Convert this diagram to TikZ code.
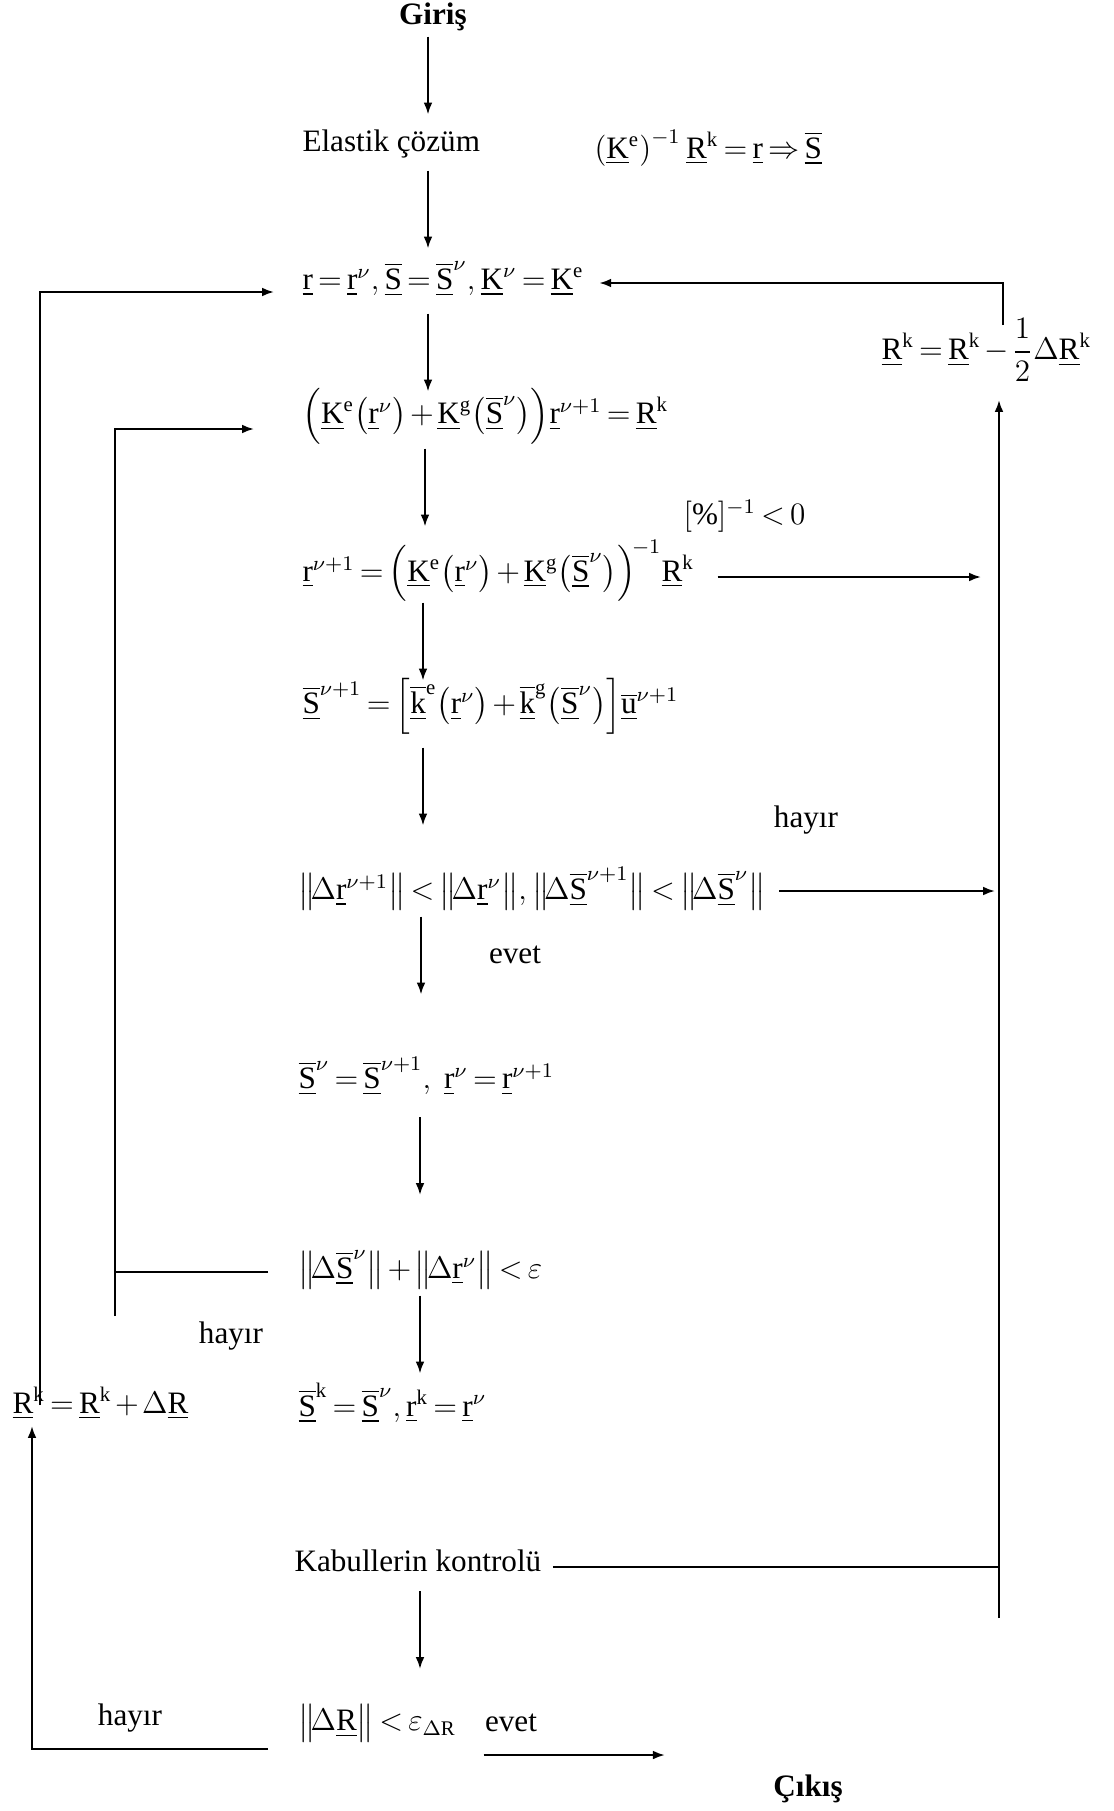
\documentclass[tikz,border=0pt]{standalone}
\usepackage{amsmath}
\usepackage{fontspec}
\setmainfont{Liberation Serif}
\usetikzlibrary{arrows.meta,calc}

% vector symbols
\newcommand{\vecr}{\underline{\mathrm{r}}}
\newcommand{\vecS}{\underline{\overline{\mathrm{S}}}}
\newcommand{\vecK}{\underline{\mathrm{K}}}
\newcommand{\vecR}{\underline{\mathrm{R}}}
\newcommand{\veck}{\underline{\overline{\mathrm{k}}}}
\newcommand{\vecu}{\underline{\overline{\mathrm{u}}}}
\newcommand{\nrm}[1]{\bigl\|\!#1\bigr\|}
\newcommand{\sue}{\mathrm{e}}
\newcommand{\sug}{\mathrm{g}}
\newcommand{\suk}{\mathrm{k}}
\thickmuskip=3mu plus 1mu
\medmuskip=2mu plus 1mu

\begin{document}
\begin{tikzpicture}[x=0.385pt,y=-0.385pt,
    txt/.style={inner sep=0pt,font=\fontsize{12}{14}\selectfont},
    lft/.style={txt,anchor=west},
    arr/.style={line width=0.8pt,-{Latex[length=4.6pt,width=3.4pt]}},
    ln/.style={line width=0.8pt}]

\useasboundingbox (0,0) rectangle (1114,1811);

% =====================================================
% MAIN COLUMN
% =====================================================
\node[txt,font=\fontsize{12}{14}\selectfont\bfseries] (giris) at (433,17) {Giriş};
\node[lft] (elastik) at (302,144) {Elastik çözüm};
\node[lft] (elform) at (594,148)
    {$\left(\vecK^{\sue}\right)^{-1}\vecR^{\suk}=\vecr\Rightarrow\vecS$};
\node[lft] (init) at (302,279)
    {$\vecr=\vecr^{\nu},\vecS=\vecS^{\nu},\vecK^{\nu}=\vecK^{\sue}$};
\node[lft] (eqsys) at (302,416)
    {$\Bigl(\vecK^{\sue}\bigl(\vecr^{\nu}\bigr)+\vecK^{\sug}\bigl(\vecS^{\nu}\bigr)\Bigr)\vecr^{\nu+1}=\vecR^{\suk}$};
\node[lft] (solve) at (302,571)
    {$\vecr^{\nu+1}=\Bigl(\vecK^{\sue}\bigl(\vecr^{\nu}\bigr)+\vecK^{\sug}\bigl(\vecS^{\nu}\bigr)\Bigr)^{\!-1}\vecR^{\suk}$};
\node[lft] (pcond) at (683,516) {$[\%]^{-1}<0$};
\node[lft] (stress) at (302,706)
    {$\vecS^{\nu+1}=\Bigl[\veck^{\sue}\bigl(\vecr^{\nu}\bigr)+\veck^{\sug}\bigl(\vecS^{\nu}\bigr)\Bigr]\vecu^{\nu+1}$};
\node[lft] (conv) at (298,889)
    {$\nrm{\Delta\vecr^{\nu+1}}<\nrm{\Delta\vecr^{\nu}},\nrm{\Delta\vecS^{\nu+1}}<\nrm{\Delta\vecS^{\nu}}$};
\node[lft] (update) at (298,1076) {$\vecS^{\nu}=\vecS^{\nu+1},\ \vecr^{\nu}=\vecr^{\nu+1}$};
\node[lft] (eps) at (298,1270) {$\nrm{\Delta\vecS^{\nu}}+\nrm{\Delta\vecr^{\nu}}<\varepsilon$};
\node[lft] (final) at (298,1403) {$\vecS^{\suk}=\vecS^{\nu},\vecr^{\suk}=\vecr^{\nu}$};
\node[lft] (kabul) at (294,1561) {Kabullerin kontrolü};
\node[lft] (dR) at (298,1723) {$\nrm{\Delta\vecR}<\varepsilon_{\Delta\mathrm{R}}$};
\node[txt,font=\fontsize{12}{14}\selectfont\bfseries] (cikis) at (808,1789) {Çıkış};

% side nodes
\node[lft] (rhalf) at (881,350) {$\vecR^{\suk}=\vecR^{\suk}-\dfrac{1}{2}\Delta\vecR^{\suk}$};
\node[lft] (radd) at (12,1403) {$\vecR^{\suk}=\vecR^{\suk}+\Delta\vecR$};

% labels
\node[txt] (hayir1) at (806,820) {hayır};
\node[txt] (evet1) at (515,955) {evet};
\node[txt] (hayir2) at (231,1336) {hayır};
\node[txt] (hayir3) at (130,1718) {hayır};
\node[txt] (evet2) at (511,1723) {evet};

% =====================================================
% DOWNWARD ARROWS
% =====================================================
\coordinate (sp) at (424,0);
\foreach \a/\b/\dx/\off in {giris/elastik/4/-5,elastik/init/4/-2,init/eqsys/4/5,
    eqsys/solve/1/-6,solve/stress/-1/3,stress/conv/-1/-11,conv/update/-3/-27,
    update/eps/-4/-17,eps/final/-4/-2,kabul/dR/-4/-12} {
    \draw[arr] ($(\a -| sp)!.5!(\b -| sp)+(\dx,\off-39)$) -- ++(0,78);
}

% =====================================================
% RIGHT SIDE
% =====================================================
\coordinate (rstub) at (999,1618);
\draw[arr] (rstub) -- ($(rhalf -| rstub)+(0,50)$);
\draw[ln] ($(kabul.east)+(11,6)$) -- ($(kabul -| rstub)+(0,6)$);
\draw[arr] ($(rhalf -| rstub)+(4,-25)$) |- ($(init.east)+(15,4)$);
\draw[arr] ($(solve.east)+(23,6)$) -- ($(solve -| rstub)+(-18,6)$);
\draw[arr] ($(conv.east)+(13,2)$) -- ($(conv -| rstub)+(-4,2)$);

% =====================================================
% LEFT SIDE
% =====================================================
\coordinate (istub) at (115,1316);
\draw[arr] (istub) |- ($(eqsys.west)+(-48,13)$);
\draw[ln] ($(eps.west)+(-30,2)$) -- ($(eps -| istub)+(0,2)$);

\coordinate (lx) at (40,0);
\draw[arr] ($(radd -| lx)+(0,2)$) |- ($(init.west)+(-28,13)$);

\coordinate (bl) at (32,0);
\draw[arr] ($(dR.west)+(-30,26)$) -| ($(radd -| bl)+(0,23)$);

% exit
\draw[arr] ($(dR.east)+(27,32)$) -- ($(cikis.west)+(-108,-34)$);

\end{tikzpicture}
\end{document}
